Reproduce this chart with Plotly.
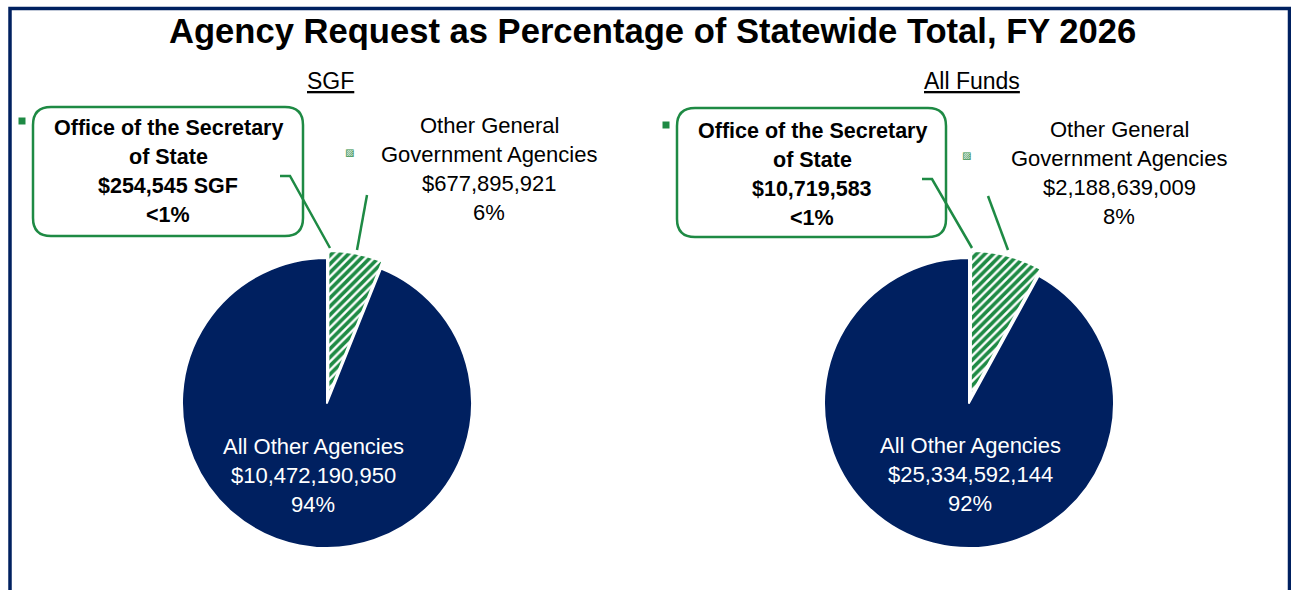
import plotly.graph_objects as go

# ---------------- data ----------------
categories = ["Office of the Secretary of State",
              "Other General Government Agencies",
              "All Other Agencies"]
sgf_values = [254545, 677895921, 10472190950]
all_funds_values = [10719583, 2188639009, 25334592144]
panel_titles = ["SGF", "All Funds"]
title_text = "Agency Request as Percentage of Statewide Total, FY 2026"

# ---------------- style ----------------
W, H = 1291, 590
NAVY = "#002060"
GREEN = "#1E8A44"
FONT = "Liberation Sans"


def px(x):
    return x / W


def py(y):
    return 1 - y / H


def pct(v, tot):
    p = v / tot * 100
    return "<1%" if p < 1 else f"{round(p):.0f}%"


R = 145
PULL = 0.05
HALF = R * (1 + PULL)
centers = [(327, 403), (969, 403)]

fig = go.Figure()
for (cx, cy), vals in zip(centers, [sgf_values, all_funds_values]):
    fig.add_trace(go.Pie(
        labels=categories, values=vals, sort=False, direction="clockwise",
        rotation=0, textinfo="none", hoverinfo="skip", showlegend=False,
        pull=[0, PULL, 0],
        marker=dict(
            colors=[GREEN, "white", NAVY],
            line=dict(color="white", width=2),
            pattern=dict(shape=["", "/", ""], fgcolor=GREEN, bgcolor="white",
                         size=6, solidity=0.6, fillmode="replace"),
        ),
        domain=dict(x=[px(cx - HALF), px(cx + HALF)],
                    y=[py(cy + HALF), py(cy - HALF)]),
    ))

ann = []
shapes = []


def text(x, y, s, size=22, color="black", bold=False):
    ann.append(dict(x=px(x), y=py(y), xref="paper", yref="paper", text=(f"<b>{s}</b>" if bold else s),
                    showarrow=False, xanchor="center", yanchor="middle",
                    font=dict(family=FONT, size=size, color=color)))


# title
text(652, 31, title_text, size=34.6, bold=True)

# panel titles
text(330, 81, f"<u>{panel_titles[0]}</u>", size=23)
text(972, 81, f"<u>{panel_titles[1]}</u>", size=23)

# label configs per panel
panels = [
    dict(vals=sgf_values, suffix=" SGF", box=(33, 107, 303, 236), boxcx=168, boxy=128,
         key=(22, 121), hkey=(343, 145), ocx=489, oy=126, acx=313, ay=446,
         lead1=[(280, 176), (290, 176), (330, 248)], lead2=[(367, 195), (357, 250)]),
    dict(vals=all_funds_values, suffix="", box=(677, 108, 946, 237), boxcx=812, boxy=131,
         key=(666, 125), hkey=(973, 148), ocx=1119, oy=129, acx=970, ay=445,
         lead1=[(922, 179), (932, 179), (972, 248)], lead2=[(988, 196), (1008, 250)]),
]

for p in panels:
    v = p["vals"]
    tot = sum(v)
    sos_lines = ["Office of the Secretary", "of State",
                 f"${v[0]:,}{p['suffix']}", pct(v[0], tot)]
    for i, s in enumerate(sos_lines):
        text(p["boxcx"], p["boxy"] + 29 * i, s, size=21.5, bold=True)
    oth_lines = ["Other General", "Government Agencies", f"${v[1]:,}", pct(v[1], tot)]
    for i, s in enumerate(oth_lines):
        text(p["ocx"], p["oy"] + 29 * i, s, size=22)
    all_lines = ["All Other Agencies", f"${v[2]:,}", pct(v[2], tot)]
    for i, s in enumerate(all_lines):
        text(p["acx"], p["ay"] + 29 * i, s, size=22, color="white")

    # rounded box
    x0, y0, x1, y1 = p["box"]
    r = 18
    path = (f"M {px(x0 + r)},{py(y0)} L {px(x1 - r)},{py(y0)} "
            f"Q {px(x1)},{py(y0)} {px(x1)},{py(y0 + r)} "
            f"L {px(x1)},{py(y1 - r)} Q {px(x1)},{py(y1)} {px(x1 - r)},{py(y1)} "
            f"L {px(x0 + r)},{py(y1)} Q {px(x0)},{py(y1)} {px(x0)},{py(y1 - r)} "
            f"L {px(x0)},{py(y0 + r)} Q {px(x0)},{py(y0)} {px(x0 + r)},{py(y0)} Z")
    shapes.append(dict(type="path", xref="paper", yref="paper", path=path,
                       line=dict(color=GREEN, width=2.5), fillcolor="rgba(0,0,0,0)"))
    # leader lines
    for pts in (p["lead1"], p["lead2"]):
        d = "M " + " L ".join(f"{px(a)},{py(b)}" for a, b in pts)
        shapes.append(dict(type="path", xref="paper", yref="paper", path=d,
                           line=dict(color=GREEN, width=2.5)))
    # legend keys
    kx, ky = p["key"]
    shapes.append(dict(type="rect", xref="paper", yref="paper",
                       x0=px(kx - 3.5), x1=px(kx + 3.5), y0=py(ky + 3.5), y1=py(ky - 3.5),
                       fillcolor=GREEN, line=dict(width=0)))
    hx, hy = p["hkey"]
    ann.append(dict(x=px(hx), y=py(hy), xref="paper", yref="paper", text="▨",
                    showarrow=False, font=dict(size=10, color=GREEN, family="DejaVu Sans")))

# outer border
shapes.append(dict(type="rect", xref="paper", yref="paper",
                   x0=px(10), x1=px(1289.5), y0=-0.1, y1=py(8.5),
                   line=dict(color=NAVY, width=3.5), fillcolor="rgba(0,0,0,0)", layer="above"))

fig.update_layout(
    width=W, height=H, margin=dict(l=0, r=0, t=0, b=0),
    paper_bgcolor="white", plot_bgcolor="white",
    annotations=ann, shapes=shapes, showlegend=False,
)
fig.write_html("out.html", config={"displayModeBar": False},
               post_script="document.body.style.margin='0';document.body.style.overflow='hidden';")
